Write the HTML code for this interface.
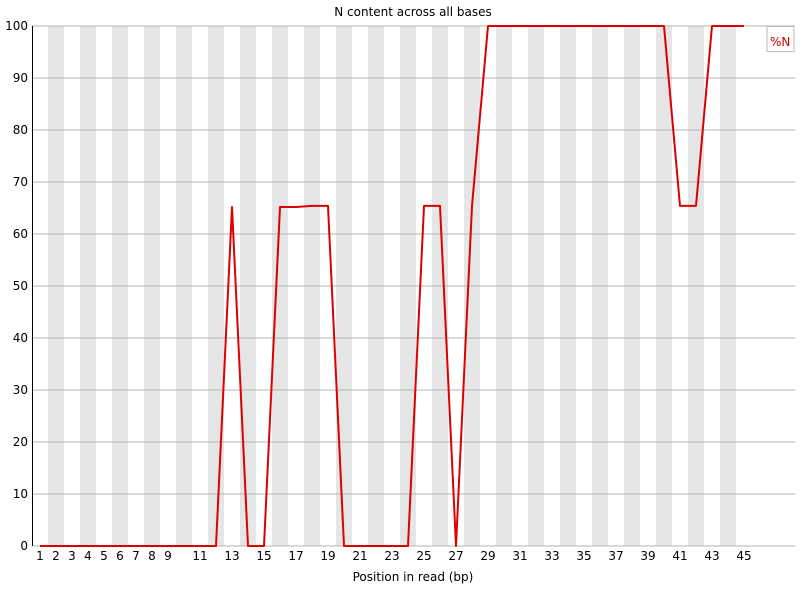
<!DOCTYPE html>
<html><head><meta charset="utf-8"><style>
body{margin:0;background:#fff;}
svg text{font-family:"DejaVu Sans","Liberation Sans",sans-serif;font-size:12px;fill:#000;}
</style></head><body>
<svg id="c" width="809" height="588" xmlns="http://www.w3.org/2000/svg">
<rect width="809" height="588" fill="#fff"/>
<g id="stripes"></g><g id="grid"></g><g id="axes"></g><g id="series"></g>
<text x="413" y="16" text-anchor="middle">N content across all bases</text>
<text x="413" y="581" text-anchor="middle">Position in read (bp)</text>
<g>
<rect x="767" y="26.5" width="27" height="25" fill="#fff" stroke="#bbb"/>
<text x="770" y="46" style="fill:#c00">%N</text>
</g>
</svg>
<script>
const positions=[1,2,3,4,5,6,7,8,9,10,11,12,13,14,15,16,17,18,19,20,21,22,23,24,25,26,27,28,29,30,31,32,33,34,35,36,37,38,39,40,41,42,43,44,45];
const nValues=[0,0,0,0,0,0,0,0,0,0,0,0,65.2,0,0,65.2,65.2,65.4,65.4,0,0,0,0,0,65.4,65.4,0,65.4,100,100,100,100,100,100,100,100,100,100,100,100,65.4,65.4,100,100,100];
const yTicks=[0,10,20,30,40,50,60,70,80,90,100];
const xLabels=["1","2","3","4","5","6","7","8","9","","11","","13","","15","","17","","19","","21","","23","","25","","27","","29","","31","","33","","35","","37","","39","","41","","43","","45"];
const NS="http://www.w3.org/2000/svg";
const L=32,R=795,T=26,B=546,W=16;
const x=i=>L+W*i+W/2;
const y=v=>B-(v/100)*(B-T);
function mk(tag,attrs,parent){const e=document.createElementNS(NS,tag);for(const k in attrs)e.setAttribute(k,attrs[k]);document.getElementById(parent).appendChild(e);return e;}
for(let i=1;i<positions.length;i+=2){const r=mk('rect',{x:L+W*i,y:T,width:W,height:B-T,fill:'#e6e6e6'},'stripes');

}
yTicks.forEach(t=>{const g=mk('line',{x1:L,x2:R,y1:y(t),y2:y(t),stroke:'#b4b4b4','stroke-width':1},'grid');


const tx=mk('text',{x:L-4,y:y(t)+4,'text-anchor':'end'},'axes');tx.textContent=t;

});
mk('line',{x1:L+0.5,x2:L+0.5,y1:T,y2:B,stroke:'#000'},'axes');
positions.forEach((p,i)=>{if(!xLabels[i])return;const tx=mk('text',{x:x(i),y:B+14,'text-anchor':'middle'},'axes');tx.textContent=xLabels[i];

});
const pts=nValues.map((v,i)=>x(i)+','+y(v)).join(' ');
const pl=mk('polyline',{points:pts,fill:'none',stroke:'#d00','stroke-width':2,'stroke-linejoin':'round'},'series');


</script>
</body></html>
